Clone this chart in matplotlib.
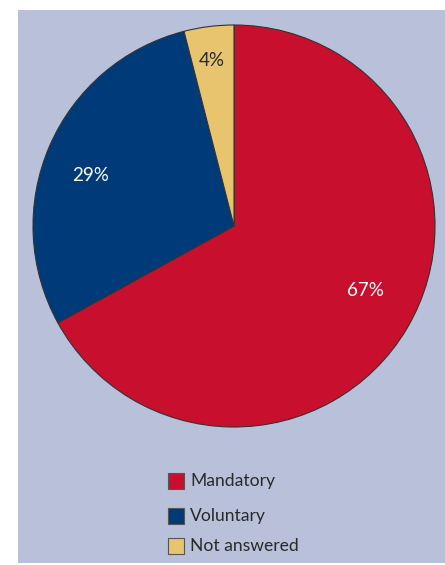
import numpy as np
import matplotlib.pyplot as plt
from matplotlib.patches import Rectangle

labels = ['Mandatory', 'Voluntary', 'Not answered']
values = [67, 29, 4]
colors = ['#c8102e', '#003a78', '#e8c46e']
pct_colors = ['white', 'white', '#2a2a2a']
pct_radius = [0.73, 0.755, 0.83]
pct_shift = [4.6, 4.1, 0.3]   # degrees, nudges the labels like in the original

W, H = 445, 565
fig = plt.figure(figsize=(W / 100, H / 100), dpi=100)

# background panel
fig.patches.append(Rectangle((18 / W, 2 / H), 1 - 18 / W, (563 - 10) / H,
                             transform=fig.transFigure, facecolor='#b8c0da',
                             edgecolor='none', zorder=-10))

cx, cy, r = 234, 226, 201
ax = fig.add_axes([(cx - r) / W, (H - cy - r) / H, 2 * r / W, 2 * r / H])
ax.set_zorder(1)
ax.patch.set_alpha(0)
wedges, _, autotexts = ax.pie(values, colors=colors, startangle=90, counterclock=False,
                              autopct='%d%%', pctdistance=0.73,
                              wedgeprops=dict(edgecolor='#333333', linewidth=0.8),
                              textprops=dict(family='Lato', fontsize=13.5))
for w, t, c, d, s in zip(wedges, autotexts, pct_colors, pct_radius, pct_shift):
    ang = np.deg2rad((w.theta1 + w.theta2) / 2 + s)
    t.set_position((d * np.cos(ang), d * np.sin(ang)))
    t.set_color(c)
ax.set_xlim(-1, 1)
ax.set_ylim(-1, 1)
ax.axis('off')

# legend
leg_y = [481, 516, 546]
for lab, col, y in zip(labels, colors, leg_y):
    fig.patches.append(Rectangle((168 / W, (H - y - 8) / H), 16 / W, 16 / H,
                                 transform=fig.transFigure, facecolor=col,
                                 edgecolor='#555555', linewidth=0.8, zorder=2))
    fig.text(190 / W, (H - y) / H, lab, family='Lato', fontsize=12.6,
             color='#2a2a2a', va='center', ha='left', zorder=3)

fig.savefig('out.png', dpi=100)
